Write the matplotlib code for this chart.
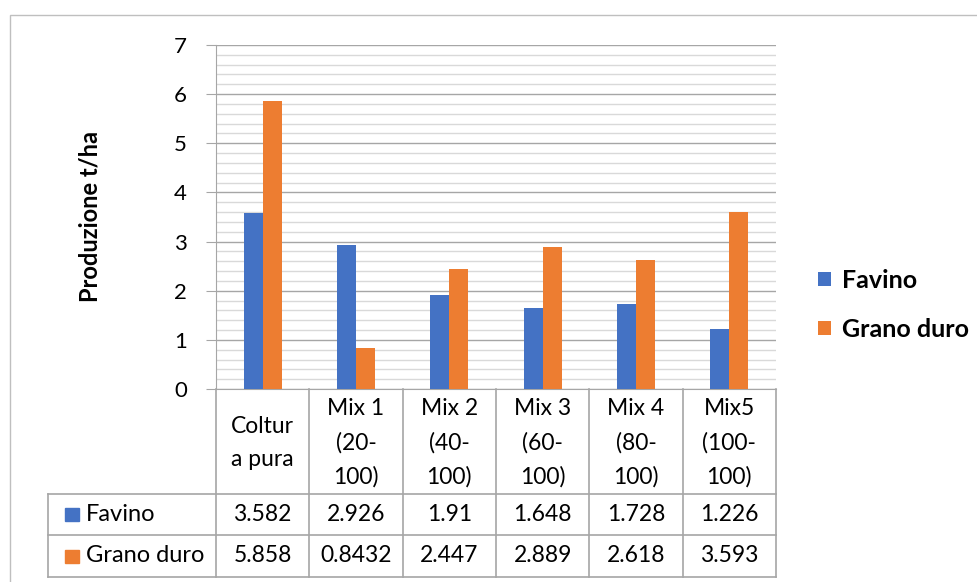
import matplotlib
matplotlib.use("Agg")
import matplotlib.pyplot as plt
from matplotlib.patches import Rectangle
import numpy as np

plt.rcParams['font.family'] = ['Lato', 'DejaVu Sans']

# data
categories = ["Coltur\na pura", "Mix 1\n(20-\n100)", "Mix 2\n(40-\n100)",
              "Mix 3\n(60-\n100)", "Mix 4\n(80-\n100)", "Mix5\n(100-\n100)"]
favino = [3.582, 2.926, 1.91, 1.648, 1.728, 1.226]
grano_duro = [5.858, 0.8432, 2.447, 2.889, 2.618, 3.593]
favino_txt = ["3.582", "2.926", "1.91", "1.648", "1.728", "1.226"]
grano_txt = ["5.858", "0.8432", "2.447", "2.889", "2.618", "3.593"]
series = ["Favino", "Grano duro"]
colors = ["#4472C4", "#ED7D31"]

W, H = 977, 582
fig = plt.figure(figsize=(W / 100, H / 100), dpi=100)

def fx(px):
    return px / W

def fy(py):
    return 1 - py / H

# outer chart border
fig.patches.append(Rectangle((fx(10), fy(600)), fx(1000), fy(15) - fy(600),
                             transform=fig.transFigure, fill=False,
                             edgecolor="#bfbfbf", lw=1.0))

# main axes
left, right, top, bottom = 216, 776, 45, 389
ax = fig.add_axes([fx(left), fy(bottom), fx(right - left), fy(top) - fy(bottom)])
x = np.arange(len(categories))
bw = 0.205
ax.bar(x - bw / 2, favino, bw, color=colors[0], zorder=3, label=series[0])
ax.bar(x + bw / 2, grano_duro, bw, color=colors[1], zorder=3, label=series[1])
ax.set_xlim(-0.5, len(categories) - 0.5)
ax.set_ylim(0, 7)
ax.set_yticks(np.arange(0, 8, 1))
ax.set_yticks(np.arange(0, 7.01, 0.2), minor=True)
ax.grid(axis="y", which="major", color="#a6a6a6", lw=1.0, zorder=1)
ax.grid(axis="y", which="minor", color="#d9d9d9", lw=1.0, zorder=1)
ax.set_xticks([])
for s in ["top", "right"]:
    ax.spines[s].set_visible(False)
ax.spines["left"].set_color("#a6a6a6")
ax.spines["bottom"].set_color("#a6a6a6")
ax.tick_params(axis="y", which="major", length=7, color="#a6a6a6",
               labelsize=16, pad=14)
ax.tick_params(axis="y", which="minor", length=0)
ax.set_ylabel("Produzione t/ha", fontsize=17, fontweight="bold", labelpad=52)

# legend
leg = ax.legend(loc="center left", bbox_to_anchor=(1.035, 0.245), frameon=False,
                prop={"weight": "bold", "size": 18},
                handlelength=0.5, handleheight=0.5, handletextpad=0.45,
                labelspacing=1.05)

# data table
t_left = 48
tx = fig.add_axes([fx(t_left), fy(577), fx(right - t_left), fy(389) - fy(577)])
unit = (right - left) / len(categories)
x0 = -0.5 - (left - t_left) / unit
tx.set_xlim(x0, len(categories) - 0.5)
tx.set_ylim(0, 188)
tx.axis("off")
lc = "#a6a6a6"
row_y = [0, 42, 83, 188]
for yv in row_y[:3]:
    tx.plot([x0, len(categories) - 0.5], [yv, yv], color=lc, lw=1.2, clip_on=False)
tx.plot([x0, x0], [0, 83], color=lc, lw=1.2, clip_on=False)
for i in range(len(categories) + 1):
    tx.plot([i - 0.5, i - 0.5], [0, 188], color=lc, lw=1.2, clip_on=False)
for i, lab in enumerate(categories):
    tx.text(i, 134, lab, ha="center", va="center", fontsize=16.5, linespacing=1.72)
    tx.text(i, 62.5, favino_txt[i], ha="center", va="center", fontsize=16.5)
    tx.text(i, 21, grano_txt[i], ha="center", va="center", fontsize=16.5)
for k, (name, yc) in enumerate(zip(series, [62.5, 21])):
    tx.add_patch(Rectangle((x0 + 17 / unit, yc - 6.5), 14 / unit, 13, color=colors[k]))
    tx.text(x0 + 38 / unit, yc, name, ha="left", va="center", fontsize=17)

fig.savefig("out.png", dpi=100)
